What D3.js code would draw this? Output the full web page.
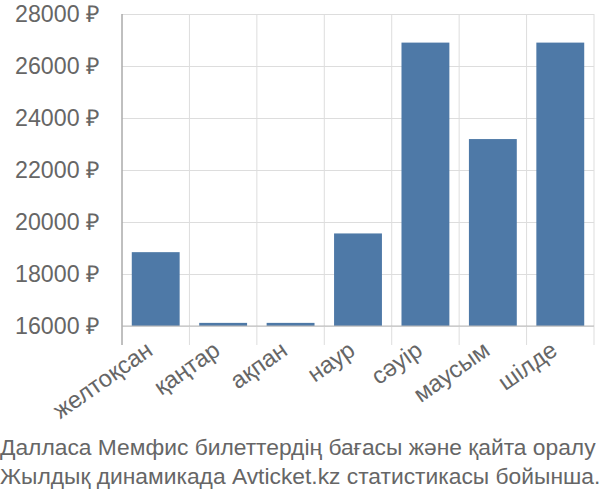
<!DOCTYPE html>
<html>
<head>
<meta charset="utf-8">
<script src="https://cdn.jsdelivr.net/npm/d3@7"></script>
<style>
  body { margin: 0; background: #fff; }
  text { font-family: "Liberation Sans", Arial, sans-serif; fill: #666; }
</style>
</head>
<body>
<svg id="chart" width="600" height="500"></svg>
<script>
'use strict';

const months = ['желтоқсан', 'қаңтар', 'ақпан', 'наур', 'сәуір', 'маусым', 'шілде'];
const prices = [18840, 16120, 16120, 19560, 26900, 23190, 26900];
const yTicks = [16000, 18000, 20000, 22000, 24000, 26000, 28000];
const titleLines = [
  'Далласа Мемфис билеттердің бағасы және қайта оралу',
  'Жылдық динамикада Avticket.kz статистикасы бойынша.'
];

const svg = d3.select('#chart');
const mLeft = 122, mRight = 594, mTop = 14, mBottom = 326;

const x = d3.scaleBand().domain(months).range([mLeft, mRight]).paddingInner(0.29).paddingOuter(0.145);
const y = d3.scaleLinear().domain([16000, 28000]).range([mBottom, mTop]);

// horizontal grid + tick labels
const yg = svg.append('g')
  .attr('transform', `translate(${mLeft},0)`)
  .call(d3.axisLeft(y).tickValues(yTicks).tickSize(20).tickPadding(2).tickFormat(d => d + ' ₽'));
yg.select('.domain').remove();
yg.selectAll('.tick line').attr('stroke', '#ddd').attr('x2', mRight - mLeft);
yg.selectAll('.tick text').style('font-size', '23.2px').attr('fill', '#666');

// vertical grid lines at band edges
const edges = months.map(m => x(m) - x.step() * x.paddingInner() / 2);
edges.push(mRight);
svg.append('g').selectAll('line').data(edges).join('line')
  .attr('x1', d => d).attr('x2', d => d)
  .attr('y1', mTop).attr('y2', mBottom + 19)
  .attr('stroke', (d, i) => i === 0 ? '#aaa' : '#ddd');

// bars
svg.append('g').selectAll('rect').data(prices).join('rect')
  .attr('x', (d, i) => x(months[i]))
  .attr('width', x.bandwidth())
  .attr('y', d => y(d))
  .attr('height', d => y(16000) - y(d))
  .attr('fill', '#4e79a7');

// axis lines
svg.append('line').attr('x1', mLeft).attr('x2', mRight).attr('y1', mBottom).attr('y2', mBottom).attr('stroke', '#bbb');
svg.append('line').attr('x1', mLeft).attr('x2', mLeft).attr('y1', mTop).attr('y2', mBottom + 19).attr('stroke', '#aaa');

// x labels
svg.append('g').selectAll('text').data(months).join('text')
  .attr('transform', d => `translate(${x(d) + x.bandwidth() / 2 - 11},${mBottom + 14}) rotate(-35)`)
  .attr('text-anchor', 'end')
  .attr('dy', '0.7em')
  .style('font-size', '23.8px')
  .text(d => d);

// caption
svg.append('g').selectAll('text').data(titleLines).join('text')
  .attr('x', 0)
  .attr('y', (d, i) => 455 + i * 29)
  .style('font-size', '22.8px')
  .text(d => d);
</script>
</body>
</html>
